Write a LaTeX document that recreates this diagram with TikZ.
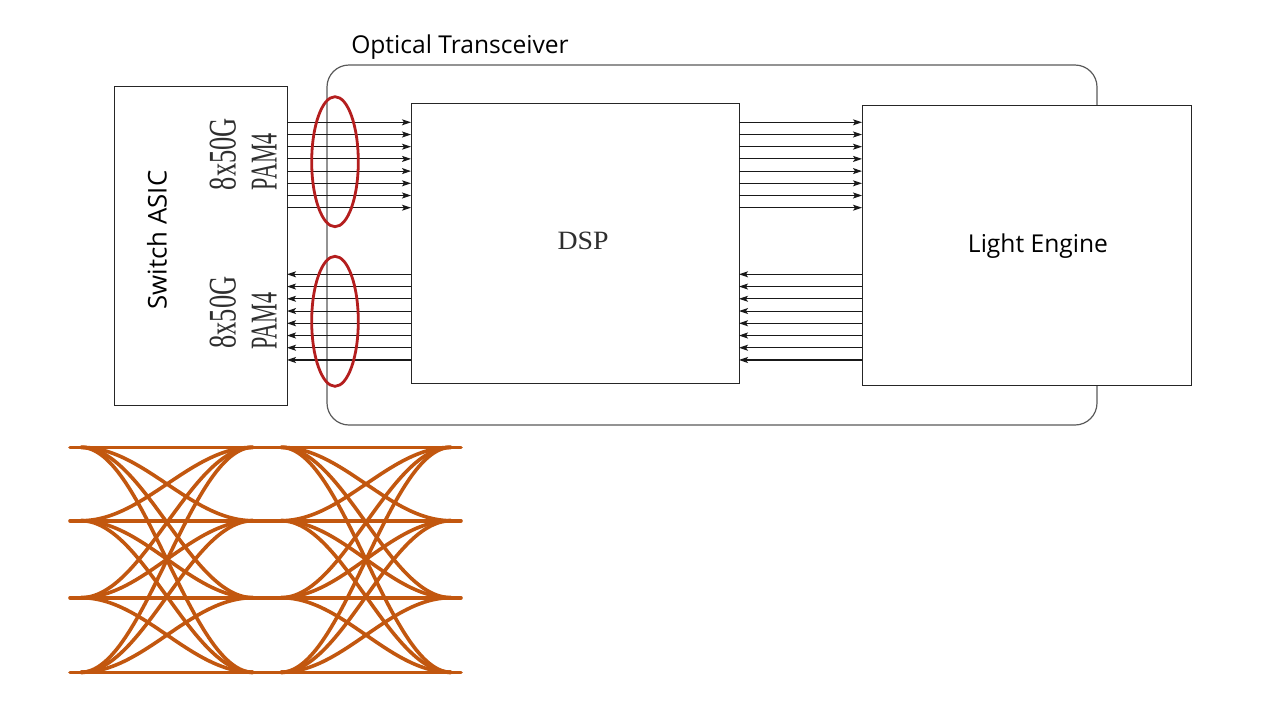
\documentclass[tikz,border=0pt]{standalone}
\usepackage{fontspec}
\setmainfont{Liberation Serif}
\newfontfamily\uisans{Open Sans}
\usetikzlibrary{arrows.meta}
\definecolor{eyeorange}{HTML}{C2570F}
\definecolor{ovalred}{HTML}{B41E1E}
\definecolor{framegray}{HTML}{5A5A5A}
\definecolor{serifgray}{HTML}{2E2E2E}
\begin{document}
\begin{tikzpicture}[x=1pt,y=-1pt,
  box/.style={draw=black!85, line width=1pt, fill=white, inner sep=0pt, outer sep=0pt},
  frame/.style={draw=framegray, line width=1.2pt, rounded corners=22pt, inner sep=0pt, outer sep=0pt},
  sig/.style={draw=black!90, line width=1.05pt, -{Stealth[length=9pt,width=6pt,inset=2pt]}},
  oval/.style={draw=ovalred, line width=2.8pt},
  eye/.style={draw=eyeorange, line width=3.6pt, line cap=round},
  sanslabel/.style={font=\uisans\fontsize{24.6}{29}\selectfont, text=black, inner sep=0pt},
  seriflabel/.style={text=serifgray, inner sep=0pt, outer sep=0pt}
]
\useasboundingbox (0,0) rectangle (1267,713);
\fill[white] (0,0) rectangle (1267,713);

% optical transceiver frame
\node[frame, minimum width=770pt, minimum height=360pt] (trans) at (712,245) {};
\node[sanslabel] (translbl) at (460,47.5) {Optical Transceiver};

% boxes
\node[box, minimum width=173pt, minimum height=319pt] (sw) at (200.5,245.5) {};
\node[box, minimum width=328pt, minimum height=280pt] (dsp) at (575,243) {};
\node[box, minimum width=329pt, minimum height=280pt] (le) at (1026.5,245) {};

% labels
\node[sanslabel, font=\uisans\fontsize{25.8}{30}\selectfont, rotate=90] (swlbl) at (157,240) {Switch ASIC};
\node[sanslabel] (lelbl) at (1038,246.5) {Light Engine};
\node[seriflabel] (dsplbl) at (583,241) {\resizebox{51pt}{17.5pt}{DSP}};

\node[seriflabel, rotate=90, anchor=south west] (r1a) at (236,190) {\resizebox{72pt}{26pt}{8x50G}};
\node[seriflabel, rotate=90, anchor=south west] (r1b) at (276.7,190) {\resizebox{57pt}{25pt}{PAM4}};
\node[seriflabel, rotate=90, anchor=south west] (r2a) at (236,348.5) {\resizebox{72pt}{26pt}{8x50G}};
\node[seriflabel, rotate=90, anchor=south west] (r2b) at (276.7,349.5) {\resizebox{57pt}{25pt}{PAM4}};

% signal lanes
\foreach \i in {0,...,7} {
  \pgfmathsetmacro\ya{122.3+12.2*\i}
  \pgfmathsetmacro\yb{274.3+12.24*\i}
  \coordinate (up\i) at (0,\ya);
  \coordinate (dn\i) at (0,\yb);
  \draw[sig] (sw.east |- up\i) -- (dsp.west |- up\i);
  \draw[sig] (dsp.east |- up\i) -- (le.west |- up\i);
  \draw[sig] (dsp.west |- dn\i) -- (sw.east |- dn\i);
  \draw[sig] (le.west |- dn\i) -- (dsp.east |- dn\i);
}

% red ovals
\draw[oval] (335,161.7) ellipse [x radius=23.3pt, y radius=65pt];
\draw[oval] (335,321.3) ellipse [x radius=23.3pt, y radius=65pt];

% PAM4 eye diagram
\foreach \y in {447.3,520.7,597.7,672.3}
  \draw[eye] (70,\y) -- (461,\y);
\foreach \a in {447.3,520.7,597.7,672.3} {
  \foreach \b in {447.3,520.7,597.7,672.3} {
    \ifdim\a pt=\b pt\relax\else
      \draw[eye] plot[domain=0:1, samples=40, smooth] ({81+172*\x},{\a+(\b-\a)*(1-cos(180*\x))/2});
      \draw[eye] plot[domain=0:1, samples=40, smooth] ({281+170*\x},{\a+(\b-\a)*(1-cos(180*\x))/2});
    \fi
  }
}
\end{tikzpicture}
\end{document}
